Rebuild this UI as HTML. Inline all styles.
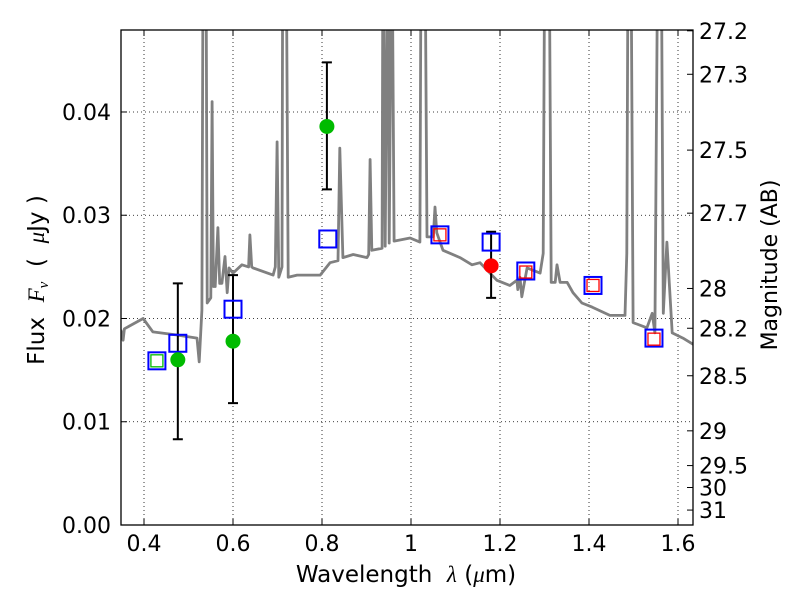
<!DOCTYPE html>
<html><head><meta charset="utf-8"><style>
html,body{margin:0;padding:0;background:#fff;}
svg{display:block;font-family:"DejaVu Sans","Liberation Sans",sans-serif;}
</style></head><body>
<svg id="chart" width="800" height="600" xmlns="http://www.w3.org/2000/svg">
<defs><clipPath id="clip"><rect x="121" y="30" width="572" height="495"/></clipPath></defs>
<rect x="0" y="0" width="800" height="600" fill="#fff"/>
<g id="grid"></g>
<g id="plot" clip-path="url(#clip)"></g>
<rect x="121" y="30" width="572" height="495" fill="none" stroke="#000" stroke-width="1.3"/>
<g id="axes"></g>
<text x="406" y="582" text-anchor="middle" font-size="23">Wavelength&#160;&#160;<tspan font-family="Liberation Serif" font-style="italic">λ</tspan>&#160;(<tspan font-family="Liberation Serif" font-style="italic">μ</tspan>m)</text>
<text transform="translate(44,280) rotate(-90)" text-anchor="middle" font-size="23">Flux&#160;&#160;<tspan font-family="Liberation Serif" font-style="italic">F<tspan font-size="15" dy="4">ν</tspan></tspan><tspan dy="-4">&#160;&#160;(&#160;&#160;</tspan><tspan font-family="Liberation Serif" font-style="italic">μ</tspan>Jy&#160;)</text>
<text transform="translate(777,265) rotate(-90)" text-anchor="middle" font-size="22">Magnitude (AB)</text>
</svg>
<script>
const specLam=[0.348,0.353,0.356,0.398,0.420,0.474,0.519,0.524,0.530,0.533,0.539,0.542,0.550,0.553,0.556,0.560,0.566,0.570,0.575,0.582,0.587,0.591,0.600,0.620,0.635,0.638,0.642,0.645,0.690,0.695,0.699,0.703,0.710,0.712,0.719,0.724,0.744,0.796,0.818,0.836,0.840,0.847,0.870,0.901,0.905,0.908,0.912,0.935,0.937,0.942,0.948,0.951,0.957,0.962,0.975,0.998,1.020,1.023,1.031,1.036,1.050,1.054,1.058,1.072,1.110,1.137,1.155,1.193,1.222,1.238,1.240,1.245,1.249,1.261,1.290,1.297,1.301,1.310,1.315,1.324,1.328,1.335,1.351,1.364,1.384,1.407,1.447,1.481,1.485,1.488,1.494,1.499,1.530,1.542,1.548,1.555,1.562,1.567,1.575,1.587,1.611,1.634];
const specFlux=[0.0189,0.0179,0.0190,0.0200,0.0187,0.0184,0.0181,0.0158,0.0208,0.06,0.06,0.0215,0.0220,0.0410,0.0231,0.0231,0.0288,0.0234,0.0234,0.0260,0.0225,0.0249,0.0244,0.0252,0.0250,0.0281,0.0250,0.0249,0.0242,0.0250,0.0371,0.0240,0.0250,0.06,0.06,0.0240,0.0242,0.0242,0.0254,0.0256,0.0365,0.0259,0.0262,0.0259,0.0262,0.0354,0.0266,0.0268,0.06,0.0270,0.06,0.0273,0.06,0.0275,0.0276,0.0278,0.0274,0.06,0.06,0.0279,0.0279,0.0308,0.0283,0.0266,0.0259,0.0252,0.0254,0.0237,0.0232,0.0237,0.0228,0.0240,0.0221,0.0249,0.0244,0.0263,0.06,0.06,0.0235,0.0235,0.0252,0.0235,0.0235,0.0225,0.0215,0.0211,0.0203,0.0203,0.0263,0.06,0.06,0.0196,0.0191,0.0205,0.0186,0.06,0.06,0.0205,0.0274,0.0186,0.0181,0.0175];
const modelLam=[0.429,0.476,0.600,0.813,1.065,1.180,1.258,1.409,1.546];
const modelFlux=[0.0159,0.0176,0.0209,0.0277,0.0281,0.0274,0.0246,0.0232,0.0181];
const redLam=[1.065,1.258,1.409,1.546];
const redFlux=[0.0281,0.0245,0.0232,0.0180];
const greenSqLam=[0.429];
const greenSqFlux=[0.0159];
const obsLam=[0.476,0.600,0.811,1.180];
const obsFlux=[0.0160,0.0178,0.0386,0.0251];
const obsLo=[0.0083,0.0118,0.0325,0.0220];
const obsHi=[0.0234,0.0242,0.0448,0.0284];
const obsColor=['#00bb00','#00bb00','#00bb00','#ff0000'];
const xTicks=[0.4,0.6,0.8,1.0,1.2,1.4,1.6];
const xTickLabels=['0.4','0.6','0.8','1','1.2','1.4','1.6'];
const yTicks=[0,0.01,0.02,0.03,0.04];
const yTickLabels=['0.00','0.01','0.02','0.03','0.04'];
const magTicks=[27.2,27.3,27.5,27.7,28,28.2,28.5,29,29.5,30,31];
const magLabels=['27.2','27.3','27.5','27.7','28','28.2','28.5','29','29.5','30','31'];

const NS='http://www.w3.org/2000/svg';
const X0=121,X1=693,Y0=525,Y1=30,XMIN=0.3483,XMAX=1.6337,YMIN=0,YMAX=0.04794;
const sx=v=>X0+(v-XMIN)/(XMAX-XMIN)*(X1-X0);
const sy=v=>Y0-(v-YMIN)/(YMAX-YMIN)*(Y0-Y1);
const magToFlux=m=>Math.pow(10,(23.9-m)/2.5);
function mk(tag,attrs,parent){const e=document.createElementNS(NS,tag);for(const k in attrs)e.setAttribute(k,attrs[k]);parent.appendChild(e);return e;}
const grid=document.getElementById('grid'),plot=document.getElementById('plot'),axes=document.getElementById('axes');

xTicks.forEach((t,i)=>{
  const x=sx(t);
  const g=mk('line',{x1:x,x2:x,y1:Y1,y2:Y0,stroke:'#000','stroke-width':0.8,'stroke-dasharray':'1,3'},grid);
  
  
  const tk=mk('line',{x1:x,x2:x,y1:Y0,y2:Y0-6,stroke:'#000','stroke-width':1},axes);
  
  
  const tk2=mk('line',{x1:x,x2:x,y1:Y1,y2:Y1+6,stroke:'#000','stroke-width':1},axes);
  
  
  const lb=mk('text',{x:x,y:551,'text-anchor':'middle','font-size':22},axes);
  lb.textContent=xTickLabels[i];
  
  
});
yTicks.forEach((t,i)=>{
  const y=sy(t);
  const g=mk('line',{x1:X0,x2:X1,y1:y,y2:y,stroke:'#000','stroke-width':0.8,'stroke-dasharray':'1,3'},grid);
  
  
  const tk=mk('line',{x1:X0,x2:X0+6,y1:y,y2:y,stroke:'#000','stroke-width':1},axes);
  
  
  const lb=mk('text',{x:111,y:y+8,'text-anchor':'end','font-size':22},axes);
  lb.textContent=yTickLabels[i];
  
  
});
magTicks.forEach((m,i)=>{
  const y=sy(magToFlux(m));
  const tk=mk('line',{x1:X1,x2:X1-6,y1:y,y2:y,stroke:'#000','stroke-width':1},axes);
  
  
  const lb=mk('text',{x:699,y:y+8,'font-size':22},axes);
  lb.textContent=magLabels[i];
  
  
});

const pts=specLam.map((l,i)=>sx(l).toFixed(1)+','+sy(specFlux[i]).toFixed(1)).join(' ');
const spec=mk('polyline',{points:pts,fill:'none',stroke:'#808080','stroke-width':2.8,'stroke-linejoin':'round'},plot);



obsLam.forEach((l,i)=>{
  const x=sx(l);
  const e=mk('path',{d:`M${x},${sy(obsLo[i])}V${sy(obsHi[i])}M${x-5},${sy(obsLo[i])}h10M${x-5},${sy(obsHi[i])}h10`,stroke:'#000','stroke-width':2,fill:'none'},plot);
  
  
});
modelLam.forEach((l,i)=>{
  const r=mk('rect',{x:sx(l)-8.5,y:sy(modelFlux[i])-8.5,width:17,height:17,fill:'none',stroke:'#0000ff','stroke-width':2},plot);
  
  
});
redLam.forEach((l,i)=>{
  const r=mk('rect',{x:sx(l)-6,y:sy(redFlux[i])-6,width:12,height:12,fill:'none',stroke:'#ff0000','stroke-width':1.3},plot);
  
  
});
greenSqLam.forEach((l,i)=>{
  const r=mk('rect',{x:sx(l)-6,y:sy(greenSqFlux[i])-6,width:12,height:12,fill:'none',stroke:'#00bb00','stroke-width':1.3},plot);
  
  
});
obsLam.forEach((l,i)=>{
  const c=mk('circle',{cx:sx(l),cy:sy(obsFlux[i]),r:7.5,fill:obsColor[i]},plot);
  
  
});
</script>
</body></html>
